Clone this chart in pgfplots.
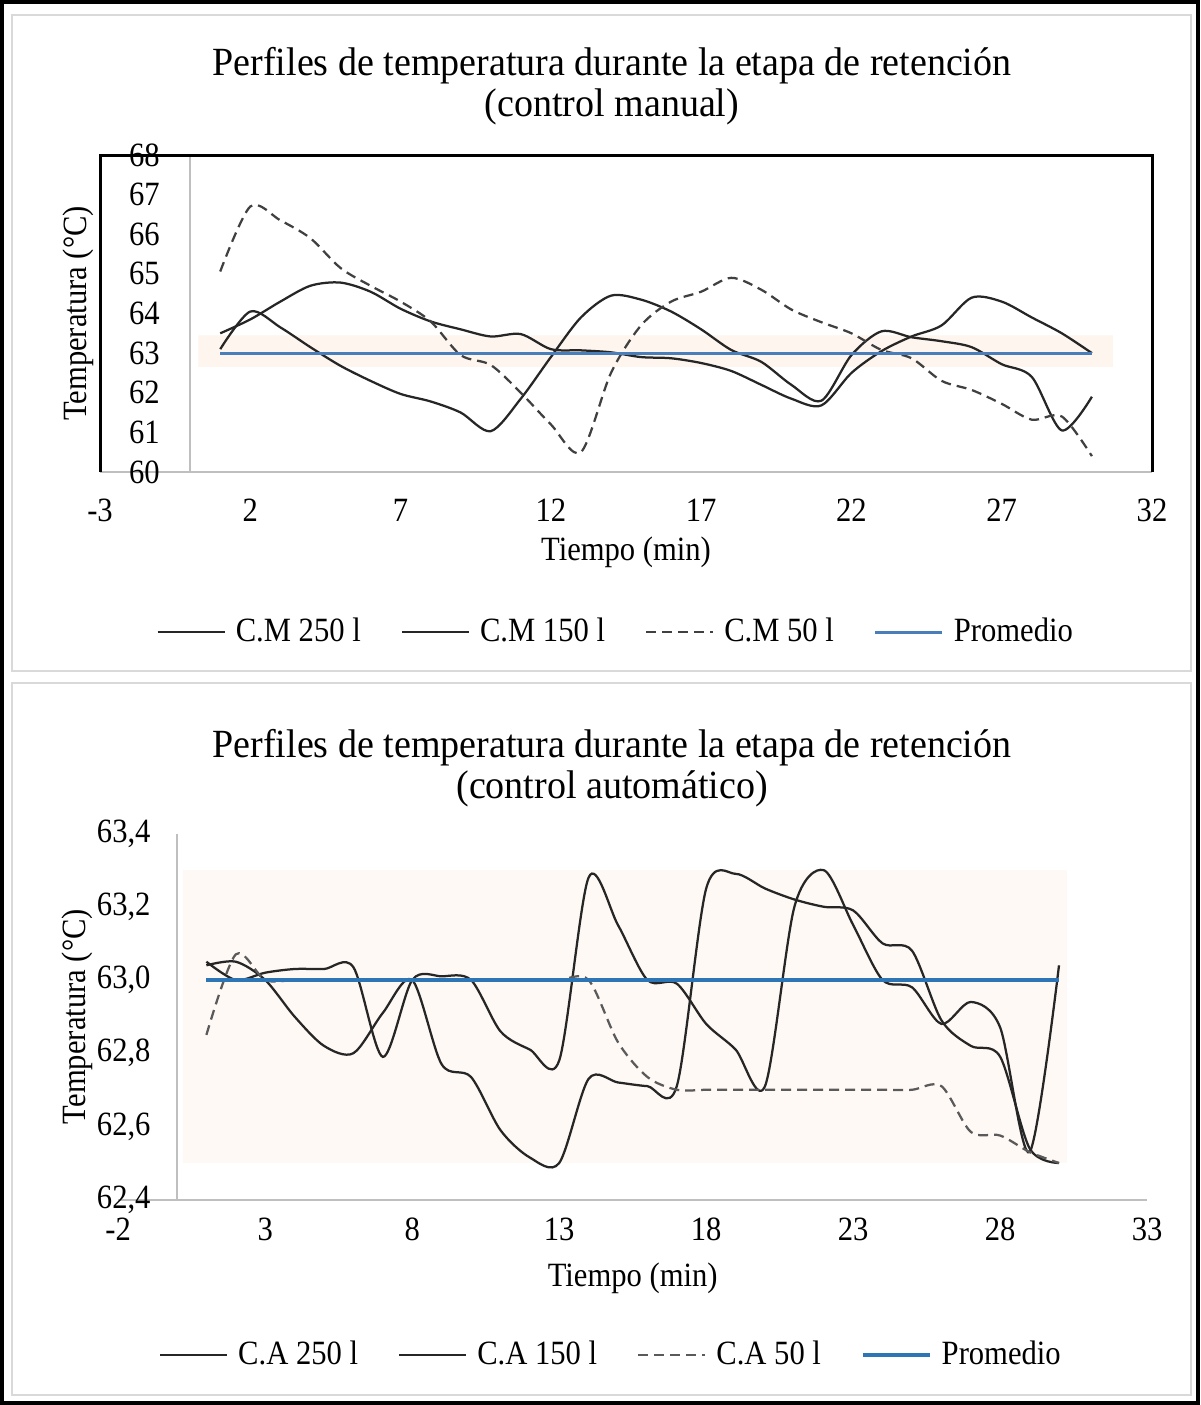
\documentclass[border=0pt]{standalone}
\usepackage{fontspec}
\setmainfont{Liberation Serif}[FakeStretch=0.9]
\newfontfamily\titlefont{Liberation Serif}[FakeStretch=0.95]
\usepackage{pgfplots}
\pgfplotsset{compat=1.18}

\definecolor{ejegris}{RGB}{191,191,191}
\definecolor{marcogris}{RGB}{217,217,217}
\definecolor{bandasup}{RGB}{253,245,238}
\definecolor{bandainf}{RGB}{254,249,245}
\definecolor{azulsup}{RGB}{74,126,187}
\definecolor{azulinf}{RGB}{46,117,182}
\definecolor{negro}{RGB}{38,38,38}
\definecolor{gristraza}{RGB}{64,64,64}
\definecolor{gristrazab}{RGB}{90,90,90}

\newcommand\lbl{\fontsize{13.6}{16}\selectfont}
\newcommand\ttl{\titlefont\fontsize{16}{16.4}\selectfont}

\pgfplotsset{
  retencion/.style={
    scale only axis, anchor=south west, clip=false,
    axis x line=bottom, axis y line=center,
    axis line style={-, draw=ejegris, line width=0.8pt},
    major tick length=0pt,
    hide obscured x ticks=false, hide obscured y ticks=false,
    /pgf/number format/assume math mode=true,
    tick label style={font=\lbl},
    xlabel={Tiempo (min)},
    ylabel={Temperatura (°C)},
    legend columns=4,
    legend style={draw=none, fill=none, font=\lbl, anchor=center,
      nodes={inner sep=1pt},
      /tikz/every odd column/.append style={column sep=3pt},
      /tikz/every even column/.append style={column sep=15pt}},
    legend image code/.code={\draw[##1] (0pt,0pt) -- (26.8pt,0pt);},
  },
  solida/.style={negro, line width=0.9pt, smooth, tension=0.5},
}

\begin{document}
\begin{tikzpicture}
\useasboundingbox (0,0) rectangle (480pt,562pt);
\draw[marcogris, line width=1pt] (4.8pt,293.6pt) rectangle (476.4pt,556pt);
\draw[marcogris, line width=1pt] (4.8pt,4pt) rectangle (476.4pt,288.8pt);
\draw[black, line width=1.6pt] (0.8pt,0.8pt) rectangle (479.2pt,561.2pt);

\node[font=\ttl, align=center] at (244.8pt,527.6pt)
  {Perfiles de temperatura durante la etapa de retención\\(control manual)};
\node[font=\ttl, align=center] at (244.8pt,254.8pt)
  {Perfiles de temperatura durante la etapa de retención\\(control automático)};

% --- control manual ---
\begin{axis}[retencion,
  at={(40pt,373.2pt)}, width=420.8pt, height=126.8pt,
  xmin=-3, xmax=32, ymin=60, ymax=68,
  xtick={-3,2,7,12,17,22,27,32},
  ytick={60,61,62,63,64,65,66,67,68},
  xticklabel style={anchor=center, inner sep=0pt, yshift=-15.2pt},
  yticklabel style={anchor=east, inner sep=0pt, xshift=-12pt},
  every axis x label/.style={at={(rel axis cs:0.5,-0.2524)}, anchor=center, font=\lbl},
  every axis y label/.style={at={(rel axis cs:-0.0209,0.5)}, anchor=center, rotate=90, font=\lbl},
  legend style={at={(0.4905,-0.505)}},
]
\addplot[draw=none, fill=bandasup, forget plot] coordinates
  {(0.27,62.65) (0.27,63.45) (30.7,63.45) (30.7,62.65) (0.27,62.65)};
\draw[black, line width=1.2pt] (rel axis cs:0,0) -- (rel axis cs:0,1)
  -- (rel axis cs:1,1) -- (rel axis cs:1,0);
\addplot[solida] coordinates {
  (1,63.1) (2,64.05) (3,63.65) (4,63.15) (5,62.68) (6,62.3) (7,61.97) (8,61.78)
  (9,61.5) (10,61.03) (11,61.85) (12,62.9) (13,63.9) (14,64.45) (15,64.35)
  (16,64.05) (17,63.6) (18,63.08) (19,62.78) (20,62.2) (21,61.8) (22,62.95)
  (23,63.55) (24,63.4) (25,63.3) (26,63.15) (27,62.72) (28,62.4) (29,61.05)
  (30,61.9)};
\addplot[solida] coordinates {
  (1,63.5) (2,63.85) (3,64.3) (4,64.7) (5,64.78) (6,64.55) (7,64.12) (8,63.8)
  (9,63.6) (10,63.42) (11,63.48) (12,63.1) (13,63.07) (14,63.02) (15,62.9)
  (16,62.87) (17,62.75) (18,62.55) (19,62.2) (20,61.85) (21,61.68) (22,62.5)
  (23,63.05) (24,63.42) (25,63.7) (26,64.4) (27,64.3) (28,63.9) (29,63.5)
  (30,63.0)};
\addplot[gristraza, line width=0.9pt, dash pattern=on 4pt off 2.4pt, smooth, tension=0.5] coordinates {
  (1,65.06) (2,66.7) (3,66.35) (4,65.9) (5,65.15) (6,64.7) (7,64.3) (8,63.8)
  (9,62.95) (10,62.7) (11,62.0) (12,61.2) (13,60.5) (14,62.5) (15,63.7)
  (16,64.3) (17,64.55) (18,64.9) (19,64.6) (20,64.1) (21,63.78) (22,63.5)
  (23,63.08) (24,62.87) (25,62.3) (26,62.07) (27,61.72) (28,61.32) (29,61.4)
  (30,60.4)};
\addplot[azulsup, line width=1.2pt] coordinates {(1,63) (30,63)};
\legend{C.M 250 l, C.M 150 l, C.M 50 l, Promedio}
\end{axis}

% --- control automatico ---
\begin{axis}[retencion,
  at={(47.28pt,82.16pt)}, width=411.6pt, height=146.4pt,
  xmin=-2, xmax=33, ymin=62.4, ymax=63.4,
  xtick={-2,3,8,13,18,23,28,33},
  ytick={62.4,62.6,62.8,63.0,63.2,63.4},
  scaled y ticks=false,
  y tick label style={/pgf/number format/fixed, /pgf/number format/fixed zerofill,
    /pgf/number format/precision=1, /pgf/number format/use comma},
  xticklabel style={anchor=center, inner sep=0pt, yshift=-12pt},
  yticklabel style={anchor=east, inner sep=0pt, xshift=-10.4pt},
  every axis x label/.style={at={(rel axis cs:0.5,-0.2142)}, anchor=center, font=\lbl},
  every axis y label/.style={at={(rel axis cs:-0.0398,0.5)}, anchor=center, rotate=90, font=\lbl},
  legend style={at={(0.479,-0.4246)}},
]
\addplot[draw=none, fill=bandainf, forget plot] coordinates
  {(0.2,62.5) (0.2,63.3) (30.27,63.3) (30.27,62.5) (0.2,62.5)};
\addplot[solida] coordinates {
  (1,63.05) (2,63.0) (3,63.02) (4,63.03) (5,63.03) (6,63.035) (7,62.79) (8,63.0)
  (9,63.01) (10,63.0) (11,62.86) (12,62.81) (13,62.78) (14,63.28) (15,63.15)
  (16,63.0) (17,62.99) (18,62.88) (19,62.81) (20,62.71) (21,63.2) (22,63.3)
  (23,63.15) (24,63.0) (25,62.98) (26,62.88) (27,62.94) (28,62.87) (29,62.53)
  (30,63.04)};
\addplot[solida] coordinates {
  (1,63.04) (2,63.05) (3,63.0) (4,62.9) (5,62.82) (6,62.8) (7,62.91) (8,63.0)
  (9,62.77) (10,62.735) (11,62.59) (12,62.515) (13,62.5) (14,62.73) (15,62.72)
  (16,62.71) (17,62.71) (18,63.25) (19,63.29) (20,63.25) (21,63.22) (22,63.2)
  (23,63.19) (24,63.1) (25,63.08) (26,62.89) (27,62.82) (28,62.79) (29,62.54)
  (30,62.5)};
\addplot[gristrazab, line width=0.9pt, dash pattern=on 4pt off 2.4pt, smooth, tension=0.5] coordinates {
  (1,62.85) (2,63.07) (3,63.0) (4,63.0) (5,63.0) (6,63.0) (7,63.0) (8,63.0)
  (9,63.0) (10,63.0) (11,63.0) (12,63.0) (13,63.0) (14,63.0) (15,62.83)
  (16,62.735) (17,62.7) (18,62.7) (19,62.7) (20,62.7) (21,62.7) (22,62.7)
  (23,62.7) (24,62.7) (25,62.7) (26,62.71) (27,62.585) (28,62.575) (29,62.53)
  (30,62.5)};
\addplot[azulinf, line width=1.5pt] coordinates {(1,63) (30,63)};
\legend{C.A 250 l, C.A 150 l, C.A 50 l, Promedio}
\end{axis}
\end{tikzpicture}
\end{document}
